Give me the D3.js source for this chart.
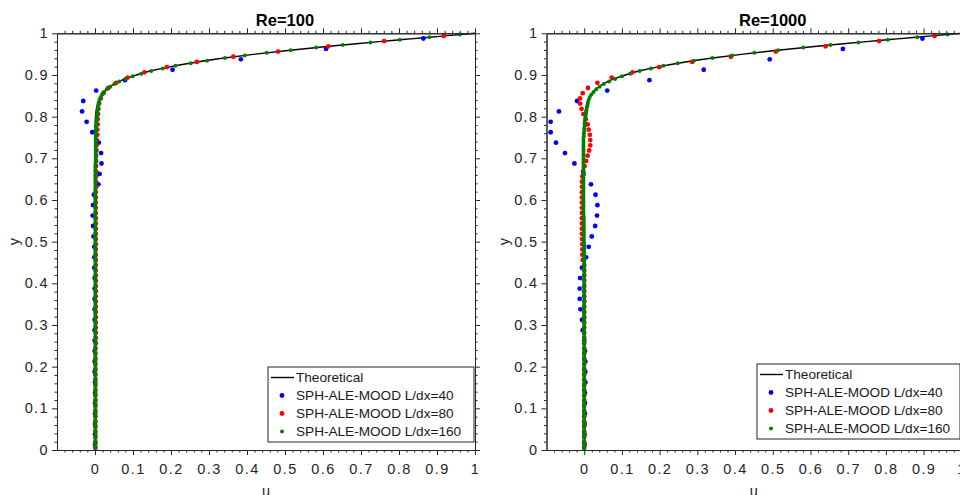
<!DOCTYPE html>
<html>
<head>
<meta charset="utf-8">
<script src="https://cdn.jsdelivr.net/npm/d3@7"></script>
<style>
  html, body { margin: 0; padding: 0; background: #fff; overflow: hidden; }
  svg { display: block; font-family: "Liberation Sans", Arial, Helvetica, sans-serif; }
</style>
</head>
<body>
<svg id="chart" width="960" height="495"></svg>
<script>
// Velocity profiles u(y) near the moving wall at two Reynolds numbers.

const panelTitles = ["Re=100", "Re=1000"];
const seriesNames = ["Theoretical", "SPH-ALE-MOOD L/dx=40", "SPH-ALE-MOOD L/dx=80", "SPH-ALE-MOOD L/dx=160"];
const resolutions = [40, 80, 160];
const seriesColors = ["#0000ff", "#ff0000", "#008000"];

const xTicks = [0, 0.1, 0.2, 0.3, 0.4, 0.5, 0.6, 0.7, 0.8, 0.9, 1];
const yTicks = [0, 0.1, 0.2, 0.3, 0.4, 0.5, 0.6, 0.7, 0.8, 0.9, 1];
const xDomain = [-0.1, 1];
const yDomain = [0, 1];

// Theoretical profile (identical in both panels)
const theoryY = [0, 0.70, 0.75, 0.78, 0.80, 0.82, 0.84, 0.85, 0.86, 0.87, 0.88, 0.89, 0.90,
                 0.91, 0.92, 0.93, 0.94, 0.95, 0.96, 0.97, 0.975, 0.98, 0.985, 0.99, 0.995, 1.0];
const theoryU = [0, 0, 0.0001, 0.0005, 0.0013, 0.0039, 0.0107, 0.0163, 0.0242, 0.0358, 0.0531, 0.0771, 0.109,
                 0.148, 0.199, 0.261, 0.335, 0.422, 0.520, 0.630, 0.688, 0.748, 0.810, 0.872, 0.936, 1.0];

// Particle velocities u, listed bottom to top; particle i sits at y = (i + 0.5) / n.
// Re = 100
const uRe100L40 = [
   0, 0, 0, 0, 0, 0, 0, -0.001, -0.001, -0.001,
  -0.001, -0.001, -0.001, -0.001, -0.001, -0.001, -0.001, -0.002, -0.002, -0.002,
  -0.004, -0.005, -0.006, -0.005, -0.003, 0.009, 0.012, 0.017, 0.016, 0.010,
  -0.007, -0.022, -0.034, -0.031, 0.003, 0.079, 0.204, 0.384, 0.608, 0.864
];
const uRe100L80 = [
  0.001, 0.001, 0.001, 0.001, 0.001, 0.001, 0.001, 0.001, 0.001, 0.001,
  0.001, 0.001, 0.001, 0.001, 0.001, 0.001, 0.001, 0.001, 0.001, 0.001,
  0.002, 0.002, 0.002, 0.002, 0.002, 0.002, 0.002, 0.002, 0.002, 0.002,
  0.002, 0.002, 0.002, 0.002, 0.002, 0.002, 0.002, 0.002, 0.002, 0.002,
  0.002, 0.002, 0.002, 0.002, 0.002, 0.002, 0.002, 0.002, 0.002, 0.002,
  0.003, 0.003, 0.003, 0.003, 0.003, 0.003, 0.003, 0.004, 0.004, 0.005,
  0.006, 0.006, 0.007, 0.007, 0.008, 0.009, 0.011, 0.015, 0.022, 0.035,
  0.056, 0.086, 0.130, 0.189, 0.268, 0.364, 0.482, 0.614, 0.761, 0.918
];
const uRe100L160 = [
  0.001, 0.001, 0.001, 0.001, 0.001, 0.001, 0.001, 0.001, 0.001, 0.001,
  0.001, 0.001, 0.001, 0.001, 0.001, 0.001, 0.001, 0.001, 0.001, 0.001,
  0.001, 0.001, 0.001, 0.001, 0.001, 0.001, 0.001, 0.001, 0.001, 0.001,
  0.001, 0.001, 0.001, 0.001, 0.001, 0.001, 0.001, 0.001, 0.001, 0.001,
  0.001, 0.001, 0.001, 0.001, 0.001, 0.001, 0.001, 0.001, 0.001, 0.001,
  0.001, 0.001, 0.001, 0.001, 0.001, 0.001, 0.001, 0.001, 0.001, 0.001,
  0.001, 0.001, 0.001, 0.001, 0.001, 0.001, 0.001, 0.001, 0.001, 0.001,
  0.001, 0.001, 0.001, 0.001, 0.001, 0.001, 0.001, 0.001, 0.001, 0.001,
  0.001, 0.001, 0.001, 0.001, 0.001, 0.001, 0.001, 0.001, 0.001, 0.001,
  0.001, 0.001, 0.001, 0.001, 0.001, 0.001, 0.001, 0.001, 0.001, 0.001,
  0.001, 0.001, 0.001, 0.001, 0.001, 0.001, 0.001, 0.001, 0.001, 0.001,
  0.002, 0.002, 0.002, 0.002, 0.002, 0.002, 0.002, 0.002, 0.002, 0.002,
  0.002, 0.002, 0.003, 0.003, 0.003, 0.004, 0.004, 0.005, 0.006, 0.006,
  0.007, 0.008, 0.009, 0.010, 0.012, 0.015, 0.019, 0.024, 0.031, 0.040,
  0.051, 0.064, 0.080, 0.099, 0.122, 0.148, 0.178, 0.212, 0.252, 0.295,
  0.342, 0.394, 0.452, 0.515, 0.582, 0.652, 0.725, 0.802, 0.880, 0.960
];

// Re = 1000
const uRe1000L40 = [
   0.001, 0.001, 0.001, 0.002, 0.002, 0.002, 0.003, 0.003, 0.003, 0.002,
   0.000, -0.004, -0.006, -0.010, -0.012, -0.012, -0.011, -0.006, 0.005, 0.012,
   0.020, 0.029, 0.034, 0.035, 0.030, 0.018, -0.002, -0.026, -0.051, -0.075,
  -0.089, -0.089, -0.067, -0.019, 0.061, 0.173, 0.317, 0.492, 0.686, 0.897
];
const uRe1000L80 = [
   0.000, 0.000, 0.000, 0.000, 0.000, 0.000, 0.000, 0.000, 0.000, 0.000,
   0.000, 0.000, 0.000, 0.000, 0.000, 0.000, 0.000, 0.000, 0.000, 0.000,
   0.000, 0.000, 0.000, 0.000, 0.000, 0.000, 0.000, 0.000, 0.000, 0.000,
   0.000, 0.000, 0.000, 0.000, 0.000, 0.000, -0.004, -0.005, -0.005, -0.005,
  -0.006, -0.006, -0.006, -0.006, -0.006, -0.006, -0.006, -0.006, -0.006, -0.006,
  -0.006, -0.006, -0.005, -0.003, 0.001, 0.005, 0.009, 0.013, 0.016, 0.016,
   0.015, 0.012, 0.009, 0.004, -0.002, -0.007, -0.011, -0.011, -0.004, 0.010,
   0.035, 0.073, 0.128, 0.199, 0.286, 0.389, 0.508, 0.640, 0.782, 0.929
];
const uRe1000L160 = [
   0.000, 0.000, 0.000, 0.000, 0.000, 0.000, 0.000, 0.000, 0.000, 0.000,
   0.000, 0.000, 0.000, 0.000, 0.000, 0.000, 0.000, 0.000, 0.000, 0.000,
   0.000, 0.000, 0.000, 0.000, 0.000, 0.000, 0.000, 0.000, 0.000, 0.000,
   0.000, 0.000, 0.000, 0.000, 0.000, 0.000, 0.000, 0.000, 0.000, 0.000,
   0.000, 0.000, 0.000, 0.000, 0.000, 0.000, 0.000, 0.000, 0.000, 0.000,
   0.000, 0.000, 0.000, 0.000, 0.000, 0.000, 0.000, 0.000, 0.000, 0.000,
   0.000, 0.000, 0.000, 0.000, 0.000, 0.000, 0.000, 0.000, 0.000, 0.000,
   0.000, 0.000, 0.000, 0.000, 0.000, 0.000, 0.000, 0.000, 0.000, 0.000,
  -0.001, -0.001, -0.001, -0.001, -0.001, -0.001, -0.001, -0.001, -0.001, -0.001,
  -0.002, -0.002, -0.002, -0.002, -0.002, -0.002, -0.002, -0.002, -0.002, -0.002,
  -0.002, -0.002, -0.002, -0.002, -0.002, -0.002, -0.002, -0.002, -0.002, -0.002,
  -0.002, -0.002, -0.002, -0.002, -0.002, -0.002, -0.002, -0.002, -0.002, -0.002,
  -0.001, -0.001, 0.000, 0.000, 0.001, 0.001, 0.002, 0.003, 0.004, 0.005,
   0.006, 0.007, 0.009, 0.010, 0.012, 0.015, 0.019, 0.025, 0.032, 0.041,
   0.052, 0.066, 0.082, 0.100, 0.122, 0.147, 0.177, 0.210, 0.248, 0.291,
   0.340, 0.392, 0.451, 0.514, 0.581, 0.653, 0.727, 0.805, 0.883, 0.964
];

const panelSeries = [
  [uRe100L40, uRe100L80, uRe100L160],
  [uRe1000L40, uRe1000L80, uRe1000L160]
];

// ---- layout ----
const panels = [
  { left: 57,    right: 475,   legend: { x: 268, y: 367, w: 206, h: 75 } },
  { left: 546.5, right: 961.3, legend: { x: 757, y: 364, w: 203, h: 75 } }
];
const plotTop = 33.3, plotBottom = 450;
const axisColor = "#262626";
const markerRadius = [2.4, 2.4, 2.0];

const svg = d3.select("#chart");
const fmt = d => d3.format("~g")(d);

// minor tick positions every 0.02 between the labelled ticks
const minorX = d3.range(-5, 51).filter(k => k % 5 !== 0).map(k => k * 0.02);
const minorY = d3.range(0, 51).filter(k => k % 5 !== 0).map(k => k * 0.02);

function styleAxis(sel) {
  sel.selectAll("path.domain").attr("stroke", axisColor).attr("stroke-width", 1);
  sel.selectAll(".tick line").attr("stroke", axisColor).attr("stroke-width", 1);
  sel.selectAll(".tick text")
    .attr("fill", axisColor)
    .attr("font-size", 14.5)
    .attr("letter-spacing", "1.4px")
    .attr("font-family", "\"Liberation Sans\", Arial, sans-serif");
}

panels.forEach((p, pi) => {
  const x = d3.scaleLinear().domain(xDomain).range([p.left, p.right]);
  const y = d3.scaleLinear().domain(yDomain).range([plotBottom, plotTop]);
  const g = svg.append("g");

  // theoretical profile
  const line = d3.line()
    .x((d, i) => x(theoryU[i]))
    .y(d => y(d))
    .curve(d3.curveMonotoneY);
  g.append("path")
    .datum(theoryY)
    .attr("d", line)
    .attr("fill", "none")
    .attr("stroke", "#000")
    .attr("stroke-width", 1.4);

  // particle data, coarse resolution first
  panelSeries[pi].forEach((uVals, si) => {
    const n = resolutions[si];
    g.append("g")
      .selectAll("circle")
      .data(uVals)
      .join("circle")
      .attr("cx", d => x(d))
      .attr("cy", (d, i) => y((i + 0.5) / n))
      .attr("r", markerRadius[si])
      .attr("fill", seriesColors[si]);
  });

  // axes on all four sides, ticks pointing outward
  const bottom = g.append("g").attr("transform", `translate(0,${plotBottom})`);
  bottom.append("g").call(d3.axisBottom(x).tickValues(minorX).tickSize(2.5).tickSizeOuter(0).tickFormat("")).call(styleAxis);
  bottom.append("g").call(d3.axisBottom(x).tickValues(xTicks).tickSize(5).tickSizeOuter(0).tickPadding(9).tickFormat(fmt)).call(styleAxis);

  const top = g.append("g").attr("transform", `translate(0,${plotTop})`);
  top.append("g").call(d3.axisTop(x).tickValues(minorX).tickSize(2.5).tickSizeOuter(0).tickFormat("")).call(styleAxis);
  top.append("g").call(d3.axisTop(x).tickValues(xTicks).tickSize(5).tickSizeOuter(0).tickFormat("")).call(styleAxis);

  const leftAx = g.append("g").attr("transform", `translate(${p.left},0)`);
  leftAx.append("g").call(d3.axisLeft(y).tickValues(minorY).tickSize(2.5).tickSizeOuter(0).tickFormat("")).call(styleAxis);
  leftAx.append("g").call(d3.axisLeft(y).tickValues(yTicks).tickSize(5).tickSizeOuter(0).tickPadding(3).tickFormat(fmt)).call(styleAxis);

  const rightAx = g.append("g").attr("transform", `translate(${p.right},0)`);
  rightAx.append("g").call(d3.axisRight(y).tickValues(minorY).tickSize(2.5).tickSizeOuter(0).tickFormat("")).call(styleAxis);
  rightAx.append("g").call(d3.axisRight(y).tickValues(yTicks).tickSize(5).tickSizeOuter(0).tickFormat("")).call(styleAxis);

  // title and axis labels
  g.append("text")
    .attr("x", x(0.5)).attr("y", 25.5)
    .attr("text-anchor", "middle")
    .attr("font-size", 16.5).attr("font-weight", "bold")
    .attr("fill", "#000")
    .text(panelTitles[pi]);

  g.append("text")
    .attr("x", (p.left + p.right) / 2).attr("y", 495.5)
    .attr("text-anchor", "middle")
    .attr("font-size", 14.5).attr("fill", axisColor)
    .text("u");

  g.append("text")
    .attr("transform", `translate(${p.left - 38},${(plotTop + plotBottom) / 2}) rotate(-90)`)
    .attr("text-anchor", "middle")
    .attr("font-size", 14.5).attr("fill", axisColor)
    .text("y");

  // legend
  const L = p.legend;
  const lg = g.append("g").attr("transform", `translate(${L.x},${L.y})`);
  lg.append("rect")
    .attr("width", L.w).attr("height", L.h)
    .attr("fill", "#fff").attr("stroke", axisColor).attr("stroke-width", 1);
  seriesNames.forEach((name, k) => {
    const cy = 10.5 + k * 18;
    if (k === 0) {
      lg.append("line")
        .attr("x1", 3).attr("x2", 26).attr("y1", cy).attr("y2", cy)
        .attr("stroke", "#000").attr("stroke-width", 1.4);
    } else {
      lg.append("circle")
        .attr("cx", 14).attr("cy", cy)
        .attr("r", markerRadius[k - 1])
        .attr("fill", seriesColors[k - 1]);
    }
    lg.append("text")
      .attr("x", 28).attr("y", cy).attr("dy", "0.36em")
      .attr("font-size", 13.6).attr("fill", "#1a1a1a")
      .text(name);
  });
});
</script>
</body>
</html>
